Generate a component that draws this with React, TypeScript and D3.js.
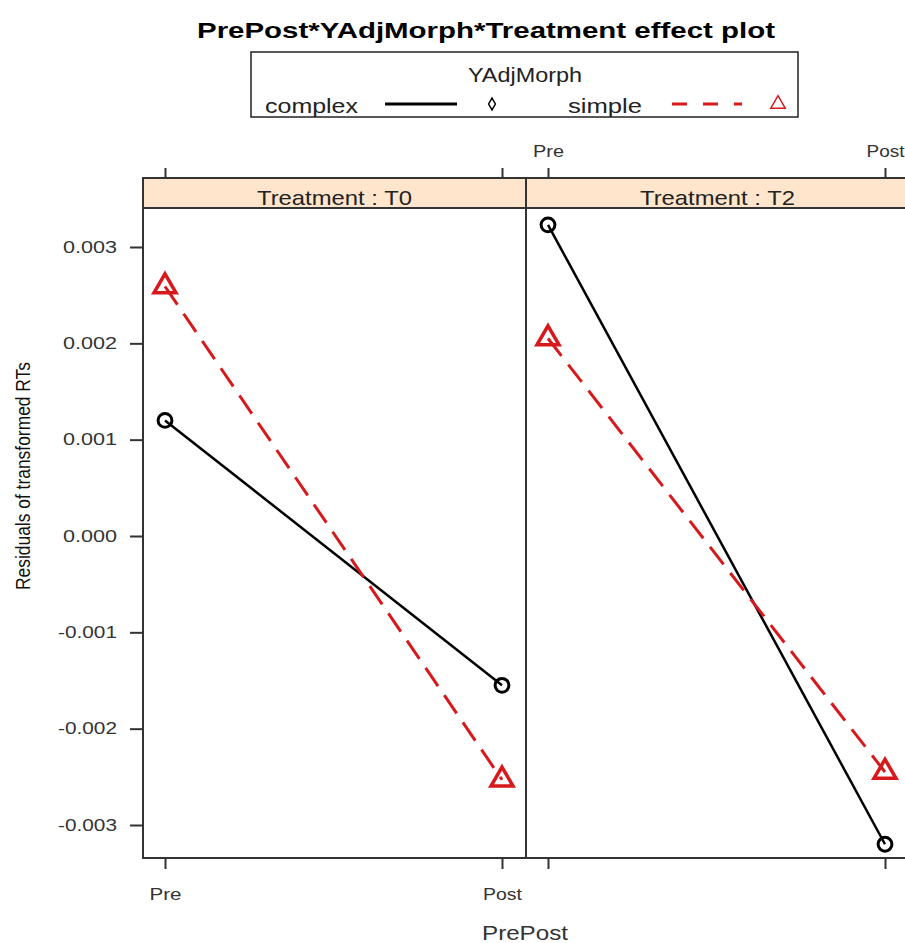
import React, { useRef, useEffect } from "react"
import * as d3 from "d3"

// effect plot values
const treatments = ["T0", "T2"]
const prePost = ["Pre", "Post"]
const yTicks = [-0.003, -0.002, -0.001, 0, 0.001, 0.002, 0.003]
const complexT0 = [0.0012, -0.00155]
const complexT2 = [0.00323, -0.0032]
const simpleT0 = [0.00259, -0.00253]
const simpleT2 = [0.00205, -0.00245]

const RED = "#d7191c"
const FONT = "'Liberation Sans', Arial, sans-serif"

export default function App() {
  const ref = useRef<SVGSVGElement>(null)

  useEffect(() => {
    const svg = d3.select(ref.current)
    svg.selectAll("*").remove()
    svg.style("font-family", FONT)

    const stripTop = 178
    const panelTop = 208
    const panelBottom = 858

    const panelX = d3.scaleBand().domain(treatments).range([143, 909])
    const x = d3.scalePoint().domain(prePost).range([22, 359])
    const y = d3.scaleLinear().domain([-0.003, 0.003]).range([825, 247])
    const pw = panelX.bandwidth()

    const series = [
      { name: "complex", color: "#000", dash: null, shape: d3.symbolCircle, size: 150, width: 2.5, vals: { T0: complexT0, T2: complexT2 } },
      { name: "simple", color: RED, dash: "22,11", shape: d3.symbolTriangle, size: 210, width: 3, vals: { T0: simpleT0, T2: simpleT2 } },
    ]

    // title
    svg.append("text")
      .attr("x", 197).attr("y", 38)
      .attr("textLength", 578).attr("lengthAdjust", "spacingAndGlyphs")
      .style("font-size", "22px").style("font-weight", "bold")
      .text("PrePost*YAdjMorph*Treatment effect plot")

    // legend
    const leg = svg.append("g")
    leg.append("rect").attr("x", 251).attr("y", 52).attr("width", 547).attr("height", 65)
      .attr("fill", "none").attr("stroke", "#222").attr("stroke-width", 1.5)
    leg.append("text").attr("x", 468).attr("y", 82)
      .attr("textLength", 114).attr("lengthAdjust", "spacingAndGlyphs")
      .style("font-size", "20px").attr("fill", "#222").text("YAdjMorph")
    leg.append("text").attr("x", 265).attr("y", 113)
      .attr("textLength", 93).attr("lengthAdjust", "spacingAndGlyphs")
      .style("font-size", "21px").attr("fill", "#222").text("complex")
    leg.append("line").attr("x1", 385).attr("x2", 457).attr("y1", 104).attr("y2", 104)
      .attr("stroke", "#000").attr("stroke-width", 3)
    leg.append("path").attr("d", d3.symbol(d3.symbolDiamond, 40)())
      .attr("transform", "translate(492,104)")
      .attr("fill", "none").attr("stroke", "#000").attr("stroke-width", 1.5)
    leg.append("text").attr("x", 568).attr("y", 113)
      .attr("textLength", 74).attr("lengthAdjust", "spacingAndGlyphs")
      .style("font-size", "21px").attr("fill", "#222").text("simple")
    leg.append("line").attr("x1", 672).attr("x2", 742).attr("y1", 104).attr("y2", 104)
      .attr("stroke", RED).attr("stroke-width", 3).attr("stroke-dasharray", "15,16")
    leg.append("path").attr("d", d3.symbol(d3.symbolTriangle, 90)())
      .attr("transform", "translate(778,104)")
      .attr("fill", "none").attr("stroke", RED).attr("stroke-width", 1.5)

    // panels
    treatments.forEach((t, ti) => {
      const px = panelX(t) as number
      const g = svg.append("g").attr("transform", `translate(${px},0)`)

      g.append("rect").attr("x", 0).attr("y", stripTop).attr("width", pw).attr("height", panelTop - stripTop)
        .attr("fill", "#ffe5cc").attr("stroke", "#333").attr("stroke-width", 2)
      g.append("text").attr("x", pw / 2).attr("y", 205).attr("text-anchor", "middle")
        .attr("textLength", 155).attr("lengthAdjust", "spacingAndGlyphs")
        .style("font-size", "21px").attr("fill", "#222").text("Treatment : " + t)
      g.append("rect").attr("x", 0).attr("y", panelTop).attr("width", pw).attr("height", panelBottom - panelTop)
        .attr("fill", "none").attr("stroke", "#333").attr("stroke-width", 2)

      // bottom axis (labels only on the first panel)
      const bottom = g.append("g").attr("transform", `translate(0,${panelBottom})`)
        .call(d3.axisBottom(x).tickSize(11).tickFormat(d => (ti === 0 ? d : "")))
      bottom.select(".domain").remove()
      bottom.selectAll("line").attr("stroke", "#333").attr("stroke-width", 2)
      bottom.selectAll("text").attr("dy", null).attr("y", 42)
        .style("font-size", "16px").attr("fill", "#333")
        .attr("textLength", d => (d === "Pre" ? 32 : 39)).attr("lengthAdjust", "spacingAndGlyphs")

      // top axis (labels only on the second panel)
      const top = g.append("g").attr("transform", `translate(0,${stripTop})`)
        .call(d3.axisTop(x).tickSize(10).tickFormat(d => (ti === 1 ? d : "")))
      top.select(".domain").remove()
      top.selectAll("line").attr("stroke", "#333").attr("stroke-width", 2)
      top.selectAll("text").attr("dy", null).attr("y", -21)
        .style("font-size", "16px").attr("fill", "#333")
        .attr("textLength", d => (d === "Pre" ? 31 : 38)).attr("lengthAdjust", "spacingAndGlyphs")

      // series
      series.forEach(s => {
        const vals = s.vals[t as "T0" | "T2"]
        const line = d3.line<number>().x((_, i) => x(prePost[i]) as number).y(d => y(d))
        const path = g.append("path").attr("d", line(vals))
          .attr("fill", "none").attr("stroke", s.color).attr("stroke-width", s.width)
        if (s.dash) path.attr("stroke-dasharray", s.dash)
        g.selectAll(null).data(vals).enter().append("path")
          .attr("d", d3.symbol(s.shape, s.size)())
          .attr("transform", (d, i) => `translate(${x(prePost[i])},${y(d)})`)
          .attr("fill", "none").attr("stroke", s.color).attr("stroke-width", s.width + 0.5)
      })
    })

    // y axis
    const yAxis = svg.append("g").attr("transform", "translate(143,0)")
      .call(d3.axisLeft(y).tickValues(yTicks).tickSize(13).tickPadding(13)
        .tickFormat(d => d3.format(".3f")(d as number).replace("\u2212", "-")))
    yAxis.select(".domain").remove()
    yAxis.selectAll("line").attr("stroke", "#333").attr("stroke-width", 2)
    yAxis.selectAll("text").style("font-size", "16px").attr("fill", "#333")
      .attr("textLength", (d: any) => (d < 0 ? 59 : 54)).attr("lengthAdjust", "spacingAndGlyphs")

    // axis titles
    svg.append("text").attr("transform", "translate(30,476) rotate(-90)")
      .attr("text-anchor", "middle").style("font-size", "20px").attr("fill", "#111")
      .attr("textLength", 228).attr("lengthAdjust", "spacingAndGlyphs")
      .text("Residuals of transformed RTs")
    svg.append("text").attr("x", 525).attr("y", 940).attr("text-anchor", "middle")
      .style("font-size", "21px").attr("fill", "#333")
      .attr("textLength", 86).attr("lengthAdjust", "spacingAndGlyphs")
      .text("PrePost")
  }, [])

  return (
    <svg ref={ref} width={905} height={943}
      style={{ position: "absolute", left: 0, top: 0, background: "#fff" }} />
  )
}
